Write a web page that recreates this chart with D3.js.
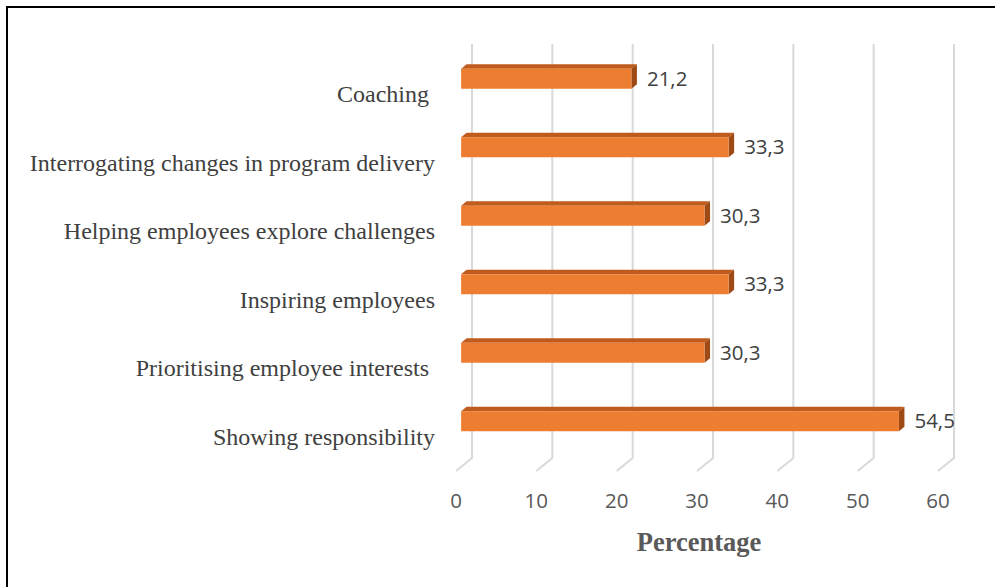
<!DOCTYPE html>
<html>
<head>
<meta charset="utf-8">
<script src="https://cdn.jsdelivr.net/npm/d3@7"></script>
<style>
  html, body { margin: 0; padding: 0; background: #fff; }
  svg { display: block; }
  text { white-space: pre; }
</style>
</head>
<body>
<svg id="chart" width="995" height="587"></svg>
<script>
// values (two labels carry a trailing space)
const categories = [
  'Coaching ',
  'Interrogating changes in program delivery',
  'Helping employees explore challenges',
  'Inspiring employees',
  'Prioritising employee interests ',
  'Showing responsibility'
];
const values = [21.2, 33.3, 30.3, 33.3, 30.3, 54.5];
const valueLabels = ['21,2', '33,3', '30,3', '33,3', '30,3', '54,5'];
const xTicks = [0, 10, 20, 30, 40, 50, 60];
const xTitle = 'Percentage';

const svg = d3.select('#chart');

// frame (only top and left edges visible in the picture)
svg.append('rect')
  .attr('x', 7).attr('y', 7).attr('width', 1010).attr('height', 610)
  .attr('fill', 'none').attr('stroke', '#000').attr('stroke-width', 2);

// front plane scales, plus a depth offset for the 3D look
const x = d3.scaleLinear().domain([0, 60]).range([456, 938]);
const y = d3.scaleBand().domain(categories).range([60, 471]);
const depth = { dx: 16, dy: 13 };   // full depth of the plot box
const floorFront = 471;
const wallTop = 44;

// gridlines: vertical on back wall, diagonal across floor
const grid = svg.append('g').attr('stroke', '#d9d9d9').attr('stroke-width', 2).attr('fill', 'none');
xTicks.forEach(t => {
  const bx = x(t) + depth.dx;
  grid.append('path')
    .attr('d', `M${bx},${wallTop} L${bx},${floorFront - depth.dy} L${x(t)},${floorFront}`);
});

// bars
const barT = 0.32;          // depth position of bar front face
const barH = 20;
const side = { dx: 5.5, dy: 4.5 };
const bars = svg.append('g');
categories.forEach((c, i) => {
  const cy = y(c) + y.bandwidth() / 2 - 15.5;
  const x0 = x(0) + barT * depth.dx;
  const x1 = x(values[i]) + barT * depth.dx;
  const top = cy - barH / 2, bot = cy + barH / 2;
  // top face
  bars.append('path')
    .attr('d', `M${x0},${top} L${x0 + side.dx},${top - side.dy} L${x1 + side.dx},${top - side.dy} L${x1},${top} Z`)
    .attr('fill', '#bf5b1c');
  // side face
  bars.append('path')
    .attr('d', `M${x1},${top} L${x1 + side.dx},${top - side.dy} L${x1 + side.dx},${bot - side.dy} L${x1},${bot} Z`)
    .attr('fill', '#9e4a15');
  // front face
  bars.append('rect')
    .attr('x', x0).attr('y', top).attr('width', x1 - x0).attr('height', barH)
    .attr('fill', '#ed7d31');
  // value label
  svg.append('text')
    .attr('x', x1 + side.dx + 10).attr('y', cy - 1)
    .attr('dominant-baseline', 'central')
    .attr('font-family', 'Open Sans, sans-serif').attr('font-size', 20.5)
    .attr('fill', '#404040')
    .text(valueLabels[i]);
});

// category labels
svg.append('g').selectAll('text').data(categories).join('text')
  .attr('x', 435)
  .attr('y', d => y(d) + y.bandwidth() / 2)
  .attr('text-anchor', 'end')
  .attr('dominant-baseline', 'central')
  .attr('xml:space', 'preserve')
  .attr('font-family', 'Liberation Serif, Times New Roman, serif')
  .attr('font-size', 24)
  .attr('fill', '#404040')
  .text(d => d);

// x axis tick labels
svg.append('g').selectAll('text').data(xTicks).join('text')
  .attr('x', d => x(d))
  .attr('y', 500)
  .attr('text-anchor', 'middle')
  .attr('dominant-baseline', 'central')
  .attr('font-family', 'Open Sans, sans-serif').attr('font-size', 20.5)
  .attr('fill', '#595959')
  .text(d => d);

// axis title
svg.append('text')
  .attr('x', 699).attr('y', 542)
  .attr('text-anchor', 'middle')
  .attr('dominant-baseline', 'central')
  .attr('font-family', 'Liberation Serif, Times New Roman, serif')
  .attr('font-weight', 'bold').attr('font-size', 26.5)
  .attr('fill', '#595959')
  .text(xTitle);
</script>
</body>
</html>
